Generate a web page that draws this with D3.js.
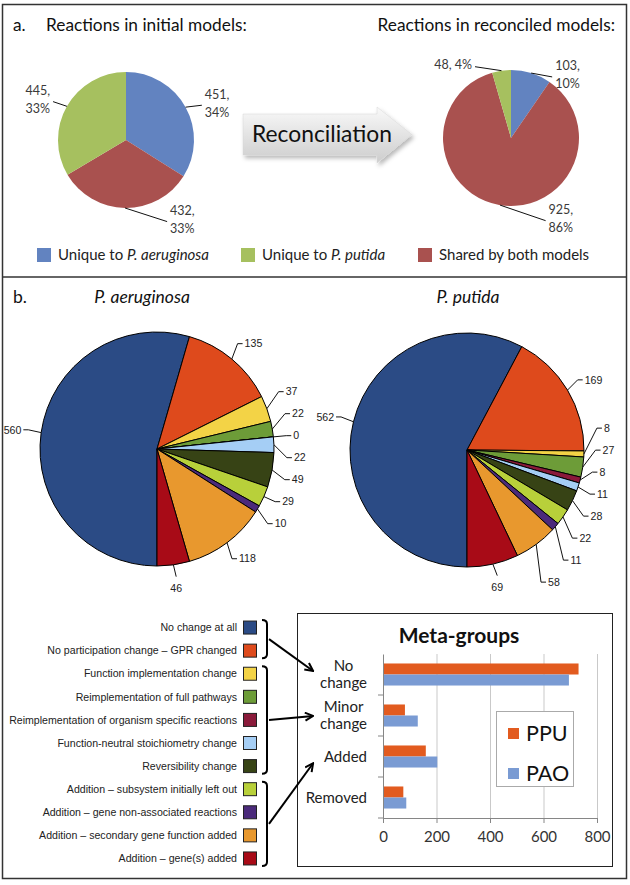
<!DOCTYPE html>
<html>
<head>
<meta charset="utf-8">
<script src="https://cdn.jsdelivr.net/npm/d3@7"></script>
<style>
    body { margin: 0; background: #fff; }
    svg { display: block; }
    .cal { font-family: Lato, "Open Sans", sans-serif; }
    .ari { font-family: "Liberation Sans", Arial, sans-serif; }
</style>
</head>
<body>
<svg id="fig"></svg>
<script>
// ---------- Data: panel a ----------
let groupNames = ['Unique to P. aeruginosa', 'Shared by both models', 'Unique to P. putida']
let initialCounts = [451, 432, 445]
let initialPct = ['34%', '33%', '33%']
let reconciledCounts = [103, 925, 48]
let reconciledPct = ['10%', '86%', '4%']
let legendOrder = [0, 2, 1]

// ---------- Data: panel b ----------
let changeTypes = [
    'No change at all',
    'No participation change \u2013 GPR changed',
    'Function implementation change',
    'Reimplementation of full pathways',
    'Reimplementation of organism specific reactions',
    'Function-neutral stoichiometry change',
    'Reversibility change',
    'Addition \u2013 subsystem initially left out',
    'Addition \u2013 gene non-associated reactions',
    'Addition \u2013 secondary gene function added',
    'Addition \u2013 gene(s) added'
]
let paoCounts = [560, 135, 37, 22, 0, 22, 49, 29, 10, 118, 46]
let ppuCounts = [562, 169, 8, 27, 8, 11, 28, 22, 11, 58, 69]

let metaGroups = ['No change', 'Minor change', 'Added', 'Removed']
let metaSeries = ['PPU', 'PAO']
let metaPPU = [731, 82, 160, 76]
let metaPAO = [695, 130, 203, 87]
let metaTicks = [0, 200, 400, 600, 800]
// change types (first..last index) feeding each meta-group
let bracketGroups = [[0, 1], [2, 6], [7, 10]]

// ---------- Styles ----------
let colorA = ['#6283c0', '#a9514f', '#a6c05f']
let colorB = ['#2b4b85', '#de4a1c', '#f3d346', '#6d9c38', '#8a1a3a', '#a5cef5',
              '#374315', '#b8d03a', '#4b2a7b', '#e8982e', '#a80b17']
let colorMeta = { PPU: '#e25b1f', PAO: '#7a9bd3' }

let width = 630
let height = 885
let deg = Math.PI / 180

let svg = d3.select('#fig')
            .attr('width', width)
            .attr('height', height)

let defs = svg.append('defs')

let grad = defs.append('linearGradient')
    .attr('id', 'arrowGrad')
    .attr('x1', 0).attr('y1', 0).attr('x2', 0).attr('y2', 1)
grad.append('stop').attr('offset', '0%').attr('stop-color', '#f9f9f9')
grad.append('stop').attr('offset', '100%').attr('stop-color', '#cdcdcd')

defs.append('filter')
    .attr('id', 'shadow')
    .attr('x', '-10%').attr('y', '-20%').attr('width', '130%').attr('height', '160%')
    .append('feDropShadow')
    .attr('dx', 2).attr('dy', 3).attr('stdDeviation', 2)
    .attr('flood-color', '#000').attr('flood-opacity', 0.28)

defs.append('marker')
    .attr('id', 'head')
    .attr('viewBox', '0 0 10 10')
    .attr('refX', 9).attr('refY', 5)
    .attr('markerWidth', 10).attr('markerHeight', 10)
    .attr('markerUnits', 'userSpaceOnUse')
    .attr('orient', 'auto')
    .append('path')
    .attr('d', 'M1,1L9,5L1,9')
    .attr('fill', 'none')
    .attr('stroke', '#000')
    .attr('stroke-width', 2)

// Frame
svg.append('rect')
    .attr('x', 2.5).attr('y', 4.5)
    .attr('width', 624).attr('height', 874)
    .attr('fill', '#fff')
    .attr('stroke', '#333')
    .attr('stroke-width', 1.5)

svg.append('line')
    .attr('x1', 2.5).attr('x2', 626.5)
    .attr('y1', 277).attr('y2', 277)
    .attr('stroke', '#333')
    .attr('stroke-width', 1.5)

// helper: text with italic species names
function speciesText(sel, str) {
    let parts = str.split(/(P\. \w+)/)
    parts.forEach(p => {
        if (p === '') return
        sel.append('tspan')
            .style('font-style', /^P\. /.test(p) ? 'italic' : 'normal')
            .text(p)
    })
}

// ================= Panel a =================
svg.append('text')
    .attr('class', 'cal')
    .attr('x', 13).attr('y', 31)
    .attr('font-size', 17.3)
    .attr('fill', '#111')
    .text('a.')

svg.append('text')
    .attr('class', 'cal')
    .attr('x', 46).attr('y', 31)
    .attr('font-size', 17.3)
    .attr('fill', '#111')
    .text('Reactions in initial models:')

svg.append('text')
    .attr('class', 'cal')
    .attr('x', 615).attr('y', 31)
    .attr('text-anchor', 'end')
    .attr('font-size', 17.3)
    .attr('fill', '#111')
    .text('Reactions in reconciled models:')

let rTop = 68

// label placement [angle in degrees, distance from centre, one line]
let placeInitial = [[65, 87, false], [151, 91, false], [298, 86, false]]
let placeReconciled = [[35, 77, false], [155, 89, false], [332, 83, true]]

function topPie(cx, cy, counts, pcts, place) {
    let arcs = d3.pie().sort(null).value(d => d)(counts)
    let arc = d3.arc().innerRadius(0).outerRadius(rTop)
    let g = svg.append('g').attr('transform', `translate(${cx},${cy})`)

    g.selectAll('path.slice')
        .data(arcs)
        .enter()
        .append('path')
        .attr('class', 'slice')
        .attr('d', arc)
        .attr('fill', (d, i) => colorA[i])

    arcs.forEach((d, i) => {
        let mid = (d.startAngle + d.endAngle) / 2
        let ex = rTop * Math.sin(mid)
        let ey = -rTop * Math.cos(mid)
        let la = place[i][0] * deg
        let lx = place[i][1] * Math.sin(la)
        let ly = -place[i][1] * Math.cos(la)
        let side = Math.sin(la) >= 0 ? 1 : -1

        g.append('path')
            .attr('d', `M${ex},${ey}L${lx - side * 3},${ly + 2}`)
            .attr('fill', 'none')
            .attr('stroke', '#111')
            .attr('stroke-width', 1)

        let t = g.append('text')
            .attr('class', 'cal')
            .attr('x', lx)
            .attr('y', ly)
            .attr('text-anchor', side > 0 ? 'start' : 'end')
            .attr('font-size', 12.5)
            .attr('fill', '#3a3a3a')
        if (place[i][2]) {
            t.append('tspan').attr('x', lx).attr('dy', 4.5).text(`${d.data}, ${pcts[i]}`)
        } else {
            t.append('tspan').attr('x', lx).attr('dy', -4.5).text(`${d.data},`)
            t.append('tspan').attr('x', lx).attr('dy', 18).text(pcts[i])
        }
    })
}

topPie(126, 140, initialCounts, initialPct, placeInitial)
topPie(511, 138, reconciledCounts, reconciledPct, placeReconciled)

// Reconciliation arrow
let arrowShape = [[243, 114], [377, 114], [377, 107], [412, 134.5], [377, 163], [377, 155], [243, 155]]
svg.append('polygon')
    .attr('points', arrowShape.map(p => p.join(',')).join(' '))
    .attr('fill', 'url(#arrowGrad)')
    .attr('stroke', '#d6d6d6')
    .attr('stroke-width', 0.5)
    .attr('filter', 'url(#shadow)')

svg.append('text')
    .attr('class', 'cal')
    .attr('x', 322).attr('y', 142)
    .attr('text-anchor', 'middle')
    .attr('font-size', 22.8)
    .attr('fill', '#111')
    .text('Reconciliation')

// Legend a
let legendAX = [37, 241, 418]
legendOrder.forEach((k, j) => {
    svg.append('rect')
        .attr('x', legendAX[j]).attr('y', 248)
        .attr('width', 14).attr('height', 14)
        .attr('fill', colorA[k])
    let t = svg.append('text')
        .attr('class', 'cal')
        .attr('x', legendAX[j] + 21).attr('y', 260)
        .attr('font-size', 15)
        .attr('fill', '#222')
    speciesText(t, groupNames[k])
})

// ================= Panel b =================
svg.append('text')
    .attr('class', 'cal')
    .attr('x', 13).attr('y', 303)
    .attr('font-size', 17.5)
    .attr('fill', '#111')
    .text('b.')

svg.append('text')
    .attr('class', 'cal')
    .attr('x', 142).attr('y', 303)
    .attr('text-anchor', 'middle')
    .attr('font-size', 17.5)
    .attr('font-style', 'italic')
    .attr('fill', '#111')
    .text('P. aeruginosa')

svg.append('text')
    .attr('class', 'cal')
    .attr('x', 468).attr('y', 303)
    .attr('text-anchor', 'middle')
    .attr('font-size', 17.5)
    .attr('font-style', 'italic')
    .attr('fill', '#111')
    .text('P. putida')

let rB = 117

function changePie(cx, cy, counts) {
    let arcs = d3.pie().sort(null).value(d => d).startAngle(Math.PI).endAngle(3 * Math.PI)(counts)
    let arc = d3.arc().innerRadius(0).outerRadius(rB)
    let g = svg.append('g').attr('transform', `translate(${cx},${cy})`)

    g.selectAll('path.slice')
        .data(arcs)
        .enter()
        .append('path')
        .attr('class', 'slice')
        .attr('d', arc)
        .attr('fill', (d, i) => colorB[i])
        .attr('stroke', '#000')
        .attr('stroke-width', 1)
        .attr('stroke-linejoin', 'round')

    // label layout: natural position then vertical relaxation per side
    let labels = arcs.map((d, i) => {
        let a = (d.startAngle + d.endAngle) / 2
        let a360 = (a / deg) % 360
        let bottom = a360 > 150 && a360 < 210
        let R = rB + 20
        return {
            v: d.data,
            ex: rB * Math.sin(a), ey: -rB * Math.cos(a),
            x: R * Math.sin(a), y: -R * Math.cos(a),
            bottom: bottom,
            side: Math.sin(a) >= 0 ? 1 : -1
        }
    })
    let gap = 22
    ;[1, -1].forEach(side => {
        let grp = labels.filter(l => !l.bottom && l.side === side).sort((p, q) => p.y - q.y)
        for (let it = 0; it < 200; it++) {
            for (let k = 0; k < grp.length - 1; k++) {
                let diff = grp[k + 1].y - grp[k].y
                if (diff < gap) {
                    let s = (gap - diff) / 2
                    grp[k].y -= s
                    grp[k + 1].y += s
                }
            }
        }
    })

    labels.forEach(l => {
        let d
        if (l.bottom) {
            d = `M${l.ex},${l.ey}L${l.x},${l.y - 8}`
        } else {
            d = `M${l.ex},${l.ey}L${l.x - l.side * 7},${l.y}L${l.x - l.side * 2},${l.y}`
        }
        g.append('path')
            .attr('d', d)
            .attr('fill', 'none')
            .attr('stroke', '#111')
            .attr('stroke-width', 1)

        g.append('text')
            .attr('class', 'ari')
            .attr('x', l.x)
            .attr('y', l.bottom ? l.y + 4 : l.y)
            .attr('dy', '0.35em')
            .attr('text-anchor', l.bottom ? 'middle' : (l.side > 0 ? 'start' : 'end'))
            .attr('font-size', 10.6)
            .attr('fill', '#222')
            .text(l.v)
    })
}

changePie(157, 449, paoCounts)
changePie(467, 450, ppuCounts)

// Legend b
let yLeg = d3.scaleBand()
             .domain(changeTypes)
             .range([616, 870])

changeTypes.forEach((c, i) => {
    let yc = yLeg(c) + yLeg.bandwidth() / 2
    svg.append('rect')
        .attr('x', 243.5).attr('y', yc - 6.5)
        .attr('width', 13).attr('height', 13)
        .attr('fill', colorB[i])
        .attr('stroke', '#222')
        .attr('stroke-width', 1)
    svg.append('text')
        .attr('class', 'ari')
        .attr('x', 237).attr('y', yc)
        .attr('dy', '0.35em')
        .attr('text-anchor', 'end')
        .attr('font-size', 10.6)
        .attr('fill', '#222')
        .text(c)
})

// ---------- Meta-groups bar chart ----------
svg.append('rect')
    .attr('x', 297.5).attr('y', 613.5)
    .attr('width', 315).attr('height', 253)
    .attr('fill', '#fff')
    .attr('stroke', '#222')
    .attr('stroke-width', 1)

let scale = {
    x: d3.scaleLinear().domain([0, 800]).range([383, 597]),
    y: d3.scaleBand().domain(metaGroups).range([654, 818])
}
let inner = d3.scaleBand().domain(metaSeries).range([0, scale.y.bandwidth()]).paddingOuter(0.86)

// gridlines
svg.append('g')
    .attr('transform', `translate(0,654)`)
    .call(d3.axisBottom(scale.x).tickValues(metaTicks.slice(1)).tickFormat('').tickSize(164))
    .call(g => g.select('.domain').remove())
    .call(g => g.selectAll('line').attr('stroke', '#c9c9c9'))

// bars
let barData = []
metaGroups.forEach((m, i) => {
    barData.push({ group: m, series: 'PPU', value: metaPPU[i] })
    barData.push({ group: m, series: 'PAO', value: metaPAO[i] })
})
svg.selectAll('rect.bar')
    .data(barData)
    .enter()
    .append('rect')
    .attr('class', 'bar')
    .attr('x', scale.x(0))
    .attr('y', d => scale.y(d.group) + inner(d.series))
    .attr('width', d => scale.x(d.value) - scale.x(0))
    .attr('height', inner.bandwidth())
    .attr('fill', d => colorMeta[d.series])

// x axis
svg.append('g')
    .attr('transform', `translate(0,818)`)
    .call(d3.axisBottom(scale.x).tickValues(metaTicks).tickSize(5).tickPadding(8))
    .call(g => g.select('.domain').attr('stroke', '#868686'))
    .call(g => g.selectAll('line').attr('stroke', '#868686'))
    .call(g => g.selectAll('text')
        .attr('class', 'cal')
        .attr('font-size', 15)
        .attr('fill', '#333'))

// y axis line with ticks at band boundaries
let yAxis = d3.axisLeft(scale.y).tickSize(0).tickFormat('')
svg.append('g')
    .attr('transform', `translate(${scale.x(0)},0)`)
    .call(yAxis)
    .call(g => g.select('.domain').attr('stroke', '#868686'))

let bounds = metaGroups.map(m => scale.y(m) + scale.y.bandwidth())
svg.selectAll('line.ytick')
    .data(bounds)
    .enter()
    .append('line')
    .attr('class', 'ytick')
    .attr('x1', scale.x(0) - 5).attr('x2', scale.x(0))
    .attr('y1', d => d).attr('y2', d => d)
    .attr('stroke', '#868686')

// category labels
let catRight = 367
metaGroups.forEach(m => {
    let lines = m.split(' ')
    let yc = scale.y(m) + scale.y.bandwidth() / 2
    let t = svg.append('text')
        .attr('class', 'cal')
        .attr('text-anchor', 'middle')
        .attr('font-size', 15)
        .attr('fill', '#222')
    let tsp = lines.map((ln, k) => t.append('tspan')
        .attr('y', yc + 5 + (k - (lines.length - 1) / 2) * 17)
        .text(ln))
    let maxW = d3.max(tsp, s => s.node().getComputedTextLength())
    tsp.forEach(s => s.attr('x', catRight - maxW / 2))
})

// title
svg.append('text')
    .attr('class', 'cal')
    .attr('x', 459).attr('y', 643)
    .attr('text-anchor', 'middle')
    .attr('font-size', 21)
    .attr('font-weight', 'bold')
    .attr('fill', '#111')
    .text('Meta-groups')

// legend
svg.append('rect')
    .attr('x', 496.5).attr('y', 711.5)
    .attr('width', 77).attr('height', 75)
    .attr('fill', '#fff')
    .attr('stroke', '#aaa')

let yMetaLeg = d3.scalePoint().domain(metaSeries).range([733.5, 773.5])
metaSeries.forEach(s => {
    svg.append('rect')
        .attr('x', 508).attr('y', yMetaLeg(s) - 5.5)
        .attr('width', 11).attr('height', 11)
        .attr('fill', colorMeta[s])
    svg.append('text')
        .attr('class', 'cal')
        .attr('x', 526).attr('y', yMetaLeg(s) + 7.5)
        .attr('font-size', 21.5)
        .attr('fill', '#111')
        .text(s)
})

// ---------- Brackets & arrows ----------
let bx = 267
bracketGroups.forEach((bg, gi) => {
    let top = yLeg(changeTypes[bg[0]]) + 4
    let bot = yLeg(changeTypes[bg[1]]) + yLeg.bandwidth() - 4
    svg.append('path')
        .attr('d', `M${bx - 5},${top}Q${bx},${top} ${bx},${top + 4}V${bot - 4}Q${bx},${bot} ${bx - 5},${bot}`)
        .attr('fill', 'none')
        .attr('stroke', '#000')
        .attr('stroke-width', 2)

    let sx = bx + 2
    let sy = (top + bot) / 2
    let tx = 318
    let ty = scale.y(metaGroups[gi]) + scale.y.bandwidth() / 2
    let ex = sx + 0.9 * (tx - sx)
    let ey = sy + 0.9 * (ty - sy)
    svg.append('line')
        .attr('x1', sx).attr('y1', sy)
        .attr('x2', ex).attr('y2', ey)
        .attr('stroke', '#000')
        .attr('stroke-width', 2)
        .attr('marker-end', 'url(#head)')
})
</script>
</body>
</html>
